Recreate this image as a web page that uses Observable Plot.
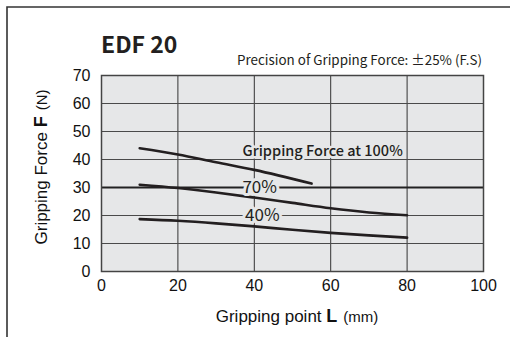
<!DOCTYPE html>
<html>
<head>
<meta charset="utf-8">
<script src="https://cdn.jsdelivr.net/npm/d3@7"></script>
<script src="https://cdn.jsdelivr.net/npm/@observablehq/plot@0.6"></script>
<style>
  html, body { margin: 0; padding: 0; background: #fff; }
  #chart { width: 510px; height: 337px; }
</style>
</head>
<body>
<div id="chart"></div>
<script>
// ---- data ----
const xTicks = [0, 20, 40, 60, 80, 100];
const yTicks = [0, 10, 20, 30, 40, 50, 60, 70];

const x100 = [10, 20, 30, 40, 55];
const f100 = [44, 41.8, 39.0, 36.3, 31.4];

const x70 = [10, 20, 30, 40, 50, 60, 70, 80];
const f70 = [31, 29.8, 28.2, 26.4, 24.5, 22.6, 21.1, 20.1];

const x40 = [10, 20, 30, 40, 50, 60, 70, 80];
const f40 = [18.7, 18.1, 17.2, 16.1, 14.9, 13.8, 12.9, 12.1];

const labelText = ["Gripping Force at 100%", "70%", "40%"];
const labelX = [57.9, 41.4, 42.1];
const labelY = [42.9, 30, 19.9];

const title = "EDF 20";
const subtitle = "Precision of Gripping Force: ±25% (F.S)";

// ---- build rows ----
const rows = [];
x100.forEach((x, i) => rows.push({series: "100%", x, f: f100[i]}));
x70.forEach((x, i) => rows.push({series: "70%", x, f: f70[i]}));
x40.forEach((x, i) => rows.push({series: "40%", x, f: f40[i]}));
const labels = labelText.map((t, i) => ({t, x: labelX[i], y: labelY[i], bold: i === 0}));

const BG = "#e6e7e8";
const sans = "'Noto Sans CJK JP', 'Noto Sans', sans-serif";
const arial = "'Liberation Sans', Arial, sans-serif";

const plot = Plot.plot({
  width: 510,
  height: 337,
  marginLeft: 101,
  marginRight: 27,
  marginTop: 75,
  marginBottom: 66,
  style: {background: "#fff", fontFamily: arial},
  x: {domain: [0, 100], ticks: xTicks, label: null},
  y: {domain: [0, 70], ticks: yTicks, label: null},
  marks: [
    Plot.frame({fill: BG, stroke: null}),
    Plot.ruleX(xTicks.filter(d => d > 0 && d < 100), {stroke: "#333", strokeWidth: 1}),
    Plot.ruleY(yTicks.filter(d => d > 0 && d < 70 && d !== 30), {stroke: "#4a4a4a", strokeWidth: 1.2}),
    Plot.ruleY([30], {stroke: "#222", strokeWidth: 2}),
    Plot.frame({stroke: "#444", strokeWidth: 1.5}),
    Plot.axisX({ticks: xTicks, tickSize: 0, tickPadding: 8, fontSize: 16, fill: "#111", label: null}),
    Plot.axisY({ticks: yTicks, tickSize: 0, tickPadding: 11, fontSize: 16, fill: "#111", label: null}),
    Plot.line(rows, {x: "x", y: "f", z: "series", stroke: "#231f20", strokeWidth: 2.6, curve: "monotone-x"}),
    Plot.text(labels.filter(d => d.bold), {x: "x", y: "y", text: "t", fontSize: 14.5, fontWeight: 500,
      fontFamily: sans, fill: "#231f20", stroke: BG, strokeWidth: 5}),
    Plot.text(labels.filter(d => !d.bold), {x: "x", y: "y", text: "t", fontSize: 17,
      fontFamily: sans, fill: "#231f20", stroke: BG, strokeWidth: 6})
  ]
});

document.getElementById("chart").appendChild(plot);

const svg = d3.select(plot);
// outer border (top and left)
svg.append("path").attr("d", "M7,337V7H510").attr("fill", "none").attr("stroke", "#333").attr("stroke-width", 1.6);

// title
svg.append("text").attr("x", 101).attr("y", 52.5).attr("text-anchor", "start").attr("font-family", sans)
  .attr("font-weight", 700).attr("font-size", 23).attr("fill", "#231f20").text(title);
svg.append("text").attr("x", 482).attr("y", 65).attr("text-anchor", "end").attr("font-family", sans)
  .attr("font-size", 13.4).attr("fill", "#231f20").text(subtitle);

// x axis label
const xl = svg.append("text").attr("x", 297).attr("y", 322).attr("text-anchor", "middle")
  .attr("font-family", arial).attr("font-size", 17).attr("fill", "#111");
xl.append("tspan").text("Gripping point ");
xl.append("tspan").attr("font-weight", 700).attr("font-size", 18).text("L");
xl.append("tspan").attr("font-size", 15).attr("dx", 6).text("(mm)");

// y axis label
const yl = svg.append("text").attr("transform", "translate(47,167) rotate(-90)").attr("text-anchor", "middle")
  .attr("font-family", arial).attr("font-size", 17).attr("fill", "#111");
yl.append("tspan").text("Gripping Force ");
yl.append("tspan").attr("font-weight", 700).attr("font-size", 18).text("F");
yl.append("tspan").attr("font-size", 15).attr("dx", 6).text("(N)");
</script>
</body>
</html>
